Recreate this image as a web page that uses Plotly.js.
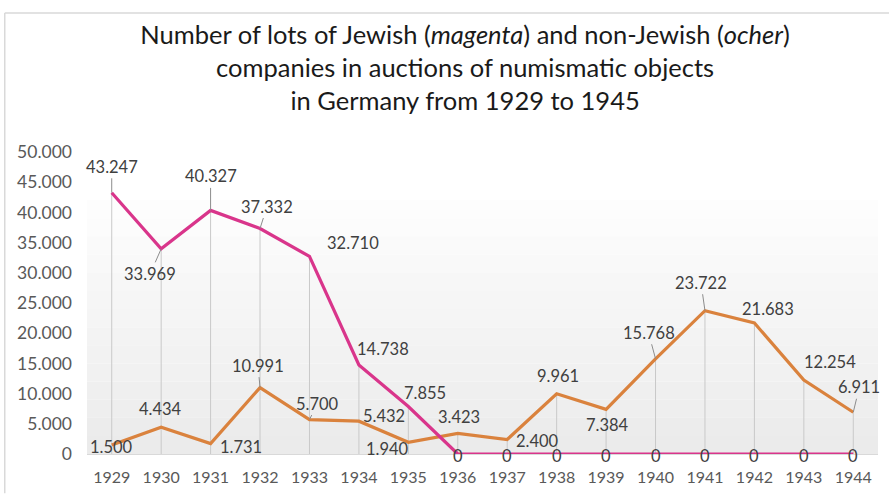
<!DOCTYPE html>
<html>
<head>
<meta charset="utf-8">
<script src="https://cdn.plot.ly/plotly-3.0.1.min.js"></script>
<style>html,body{margin:0;padding:0;background:#fff;}#chart{width:889px;height:495px;}</style>
</head>
<body>
<div id="chart"></div>
<script>
// ---- data ----
const years = ['1929','1930','1931','1932','1933','1934','1935','1936','1937','1938','1939','1940','1941','1942','1943','1944'];
const jewish = [43247, 33969, 40327, 37332, 32710, 14738, 7855, 0, 0, 0, 0, 0, 0, 0, 0, 0];
const nonJewish = [1500, 4434, 1731, 10991, 5700, 5432, 1940, 3423, 2400, 9961, 7384, 15768, 23722, 21683, 12254, 6911];
const yTicks = [0, 5000, 10000, 15000, 20000, 25000, 30000, 35000, 40000, 45000, 50000];

// ---- label placement (style, pixel offsets of label centre from point, leader line flag) ----
const jewishOff = [[0,-26,1],[-11,25,1],[0,-34,1],[7,-22,1],[44,-13,0],[24,-16,0],[17,-14,0],
  [0,2,0],[0,2,0],[0,2,0],[0,2,0],[0,2,0],[0,2,0],[0,2,0],[0,2,0],[0,2,0]];
const nonJewishOff = [[0,2,0],[-1,-18,0],[30,3,0],[-2,-22,1],[8,-16,1],[25,-5,0],[-21,7,0],
  [1,-16,0],[30,1,0],[1,-18,0],[1,16,0],[-7,-26,1],[-4,-28,1],[14,-14,0],[26,-18,0],[6,-25,1]];

const MAGENTA = '#D9358B';
const OCHER = '#DA823D';
const FONT = 'Lato, "Open Sans", sans-serif';

function fmt(v){ return String(v).replace(/\B(?=(\d{3})+(?!\d))/g, '.'); }

// drop lines from the higher of the two points down to the axis
const dropX = [], dropY = [];
years.forEach((yr,i)=>{ dropX.push(yr, yr, null); dropY.push(0, Math.max(jewish[i], nonJewish[i]), null); });

const traces = [
  {x: dropX, y: dropY, mode:'lines', line:{color:'#c9c9c9', width:1}, hoverinfo:'skip', showlegend:false},
  {x: years, y: nonJewish, mode:'lines', name:'non-Jewish', line:{color:OCHER, width:3.2}, showlegend:false},
  {x: years, y: jewish, mode:'lines', name:'Jewish', line:{color:MAGENTA, width:3.2}, showlegend:false}
];

const annotations = [];
function addLabels(vals, offs){
  vals.forEach((v,i)=>{
    const o = offs[i];
    annotations.push({
      x: i, y: v, xref:'x', yref:'y', text: fmt(v),
      showarrow: true, ax: o[0], ay: o[1], arrowhead: 0, arrowwidth: 1,
      arrowcolor: o[2] ? '#8c8c8c' : 'rgba(0,0,0,0)',
      font: {family: FONT, size: 16.5, color: '#404040'}
    });
  });
}
addLabels(nonJewish, nonJewishOff);
addLabels(jewish, jewishOff);

// soft vertical gradient in the plot area
const shapes = [];
const nBands = 14, topFrac = 0.84;
for (let k = 0; k < nBands; k++) {
  const t = k / (nBands - 1);
  const c = Math.round(253 - (253 - 235) * t);
  shapes.push({type:'rect', xref:'paper', yref:'paper', layer:'below',
    x0: 0, x1: 1, y0: topFrac * (1 - (k + 1) / nBands), y1: topFrac * (1 - k / nBands),
    fillcolor: 'rgb(' + c + ',' + c + ',' + c + ')', line:{width:0}});
}
// outer frame lines
shapes.push({type:'line', xref:'paper', yref:'paper', x0:-0.104, x1:1.02, y0:1.46, y1:1.46, line:{color:'#d9d9d9', width:1.5}});
shapes.push({type:'line', xref:'paper', yref:'paper', x0:-0.104, x1:-0.104, y0:1.46, y1:-0.13, line:{color:'#d9d9d9', width:1.5}});

const layout = {
  width: 889, height: 495,
  margin: {l: 87, r: 11, t: 152, b: 41},
  paper_bgcolor: '#ffffff', plot_bgcolor: '#ffffff',
  separators: ',.',
  font: {family: FONT, color: '#595959'},
  title: {
    text: 'Number of lots of Jewish (<i>magenta</i>) and non-Jewish (<i>ocher</i>)<br>companies in auctions of numismatic objects<br>in Germany from 1929 to 1945',
    x: 0.478, xref: 'paper', xanchor: 'center', y: 0.912, yref: 'container', yanchor: 'top',
    font: {family: FONT, size: 25.5, color: '#1a1a1a'}
  },
  xaxis: {
    type: 'category', categoryorder: 'array', categoryarray: years,
    range: [-0.5, years.length - 0.5],
    showgrid: false, zeroline: false, showline: true, linecolor: '#d9d9d9', linewidth: 1,
    ticks: '', tickfont: {family: FONT, size: 16, color: '#595959'}, ticklabelstandoff: 9, fixedrange: true
  },
  yaxis: {
    range: [0, 50000], tickmode: 'array', tickvals: yTicks, ticktext: yTicks.map(fmt),
    showgrid: false, zeroline: false, showline: false, ticks: '',
    tickfont: {family: FONT, size: 17.5, color: '#595959'}, ticklabelstandoff: 14, fixedrange: true
  },
  annotations: annotations,
  shapes: shapes,
  showlegend: false
};

Plotly.newPlot('chart', traces, layout, {displayModeBar: false});
</script>
</body>
</html>
